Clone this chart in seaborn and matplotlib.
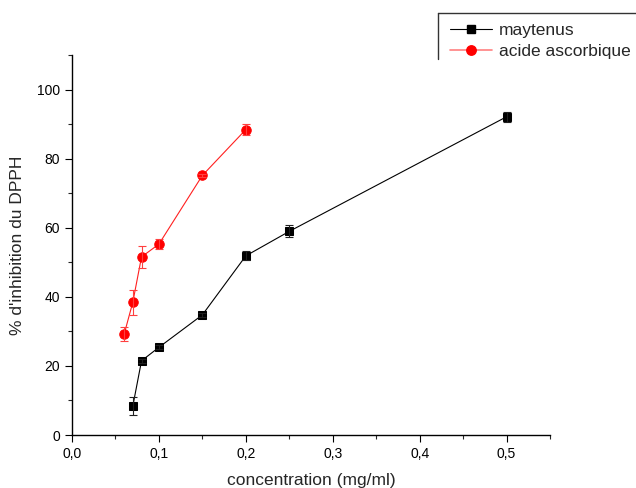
import numpy as np
import pandas as pd
import matplotlib
matplotlib.use("Agg")
import matplotlib.pyplot as plt
import seaborn as sns
from matplotlib.lines import Line2D
from matplotlib.ticker import MultipleLocator, FuncFormatter

# maytenus
may_x = [0.07, 0.08, 0.10, 0.15, 0.20, 0.25, 0.50]
may_y = [8.4, 21.5, 25.4, 34.8, 51.9, 59.0, 92.2]
may_err = [2.5, 0.6, 0.6, 0.5, 1.3, 1.7, 1.5]

# acide ascorbique
asc_x = [0.06, 0.07, 0.08, 0.10, 0.15, 0.20]
asc_y = [29.2, 38.5, 51.6, 55.3, 75.2, 88.5]
asc_err = [2.0, 3.6, 3.2, 1.5, 0.5, 1.6]

sns.set_style("ticks")
plt.rcParams['font.family'] = ['Liberation Sans', 'DejaVu Sans']

fig = plt.figure(figsize=(6.36, 4.88), dpi=100)
ax = fig.add_axes([0.1132, 0.1086, 0.7516, 0.778])

may = pd.DataFrame({"x": may_x, "y": may_y})
asc = pd.DataFrame({"x": asc_x, "y": asc_y})

sns.lineplot(data=may, x="x", y="y", ax=ax, color='black', lw=0.8, marker='s', markersize=6,
             markeredgecolor='black', markerfacecolor='black', zorder=3)
sns.lineplot(data=asc, x="x", y="y", ax=ax, color='#ff2020', lw=0.8, marker='o', markersize=6.8,
             markeredgecolor='red', markerfacecolor='red', zorder=3)
ax.errorbar(may_x, may_y, yerr=may_err, fmt='none', ecolor='#202020', elinewidth=0.8, capsize=3, capthick=0.8, zorder=4)
ax.errorbar(asc_x, asc_y, yerr=asc_err, fmt='none', ecolor='#ff4040', elinewidth=0.8, capsize=3, capthick=0.8, zorder=4)

ax.set_xlim(0, 0.55)
ax.set_ylim(0, 110)
ax.xaxis.set_major_locator(MultipleLocator(0.1))
ax.xaxis.set_minor_locator(MultipleLocator(0.05))
ax.yaxis.set_major_locator(MultipleLocator(20))
ax.yaxis.set_minor_locator(MultipleLocator(10))
ax.xaxis.set_major_formatter(FuncFormatter(lambda v, p: ("%.1f" % v).replace('.', ',')))
ax.yaxis.set_major_formatter(FuncFormatter(lambda v, p: "%d" % round(v)))
ax.tick_params(which='major', direction='out', length=5, width=0.8, labelsize=10, colors='black')
ax.tick_params(which='minor', direction='out', length=3, width=0.8)
for s in ['left', 'bottom']:
    ax.spines[s].set_linewidth(1.0)
    ax.spines[s].set_color('black')
sns.despine(ax=ax)

ax.set_xlabel("concentration (mg/ml)", fontsize=12.5, labelpad=9)
ax.set_ylabel("% d'inhibition du DPPH", fontsize=12.5, labelpad=9)

# legend (frame only on top and left, like the original clipped box)
handles = [
    Line2D([], [], color='black', lw=0.8, marker='s', markersize=6),
    Line2D([], [], color='#ff8080', lw=1.2, marker='o', markersize=6.8,
           markerfacecolor='red', markeredgecolor='red'),
]
fig.legend(handles, ["maytenus", "acide ascorbique"], loc='upper left',
           bbox_to_anchor=(0.683, 0.985), frameon=False, fontsize=12.5,
           handlelength=2.4, handletextpad=0.4, labelspacing=0.35)
fig.add_artist(Line2D([0.689, 1.0], [0.973, 0.973], color='#333333', lw=1, transform=fig.transFigure))
fig.add_artist(Line2D([0.689, 0.689], [0.973, 0.88], color='#333333', lw=1, transform=fig.transFigure))

fig.savefig("out.png", dpi=100)
